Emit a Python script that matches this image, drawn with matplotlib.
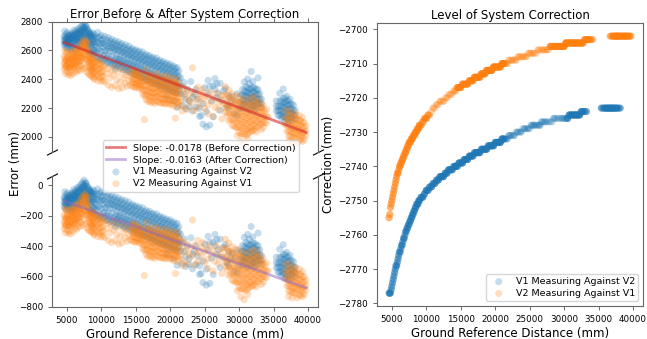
import numpy as np
import matplotlib
matplotlib.use("Agg")
import matplotlib.pyplot as plt

# ---------------- data ----------------
# V1 measuring against V2: ground distance column (mm) -> errors before correction (mm)
v1_cols = [4600, 4700, 4800, 4900, 5000, 5100, 5200, 5300, 5400, 5500, 5600, 5700, 5800, 5900,
           6000, 6100, 6200, 6300, 6400, 6500, 6600, 6700, 6800, 6900, 7000, 7100, 7200, 7300,
           7400, 7500, 7600, 7700, 7800, 7900, 8000, 8100, 8200, 8300, 8400, 8500, 8600, 8700,
           8800, 8900,
           9000, 9250, 9500, 9750, 10000, 10250, 10500, 10750, 11000, 11250, 11500, 11750,
           12000, 12250, 12500, 12750, 13000, 13250, 13500, 13750, 14000, 14250, 14500, 14750,
           15000, 15250, 15500, 15750, 16000, 16250, 16500, 16750, 17000, 17250, 17500, 17750,
           18000, 18250, 18500, 18750, 19000, 19250, 19500, 19750, 20000, 20250, 20500, 20750,
           21000, 21250,
           21500, 21750, 22000, 22250, 22500, 22750, 23000, 23250, 23500, 23750, 24000, 24250,
           24500, 24750, 25000, 25250, 25500, 25750, 26000, 26250, 26500, 26750, 27000, 27250,
           27500, 27750, 28000, 28250, 28500, 28750, 29000, 29250, 29500, 29750, 30000, 30250,
           30500, 30750, 31000, 31250, 31500, 31750, 32000, 32250, 32500, 32750, 33000, 33250,
           35400, 35650, 35900, 36150, 36400, 36650, 36900, 37150, 37400, 37650, 37900, 38150]
v1_before = [
    [2700, 2668, 2640], [2735, 2692, 2660], [2680, 2651, 2625], [2715, 2680, 2650],
    [2690, 2657, 2615], [2725, 2688, 2660], [2672, 2702, 2630], [2705, 2672, 2645],
    [2688, 2645, 2610], [2712, 2683, 2655], [2678, 2700, 2625], [2700, 2652, 2598],
    [2722, 2681, 2648], [2685, 2712, 2620], [2740, 2702, 2668], [2705, 2668, 2632],
    [2690, 2722, 2605], [2730, 2695, 2660], [2712, 2677, 2640], [2748, 2712, 2675],
    [2720, 2665, 2618], [2695, 2735, 2650], [2755, 2718, 2680], [2730, 2680, 2628],
    [2712, 2745, 2662], [2768, 2728, 2690], [2742, 2690, 2640], [2778, 2738, 2700],
    [2725, 2760, 2668], [2792, 2750, 2715], [2760, 2705, 2650], [2738, 2772, 2690],
    [2770, 2700, 2632], [2722, 2750, 2675], [2748, 2680, 2612], [2705, 2735, 2660],
    [2730, 2665, 2598], [2695, 2718, 2640], [2718, 2652, 2585], [2688, 2710, 2625],
    [2705, 2640, 2572], [2675, 2698, 2612], [2722, 2650, 2580], [2662, 2690, 2598],
    [2710, 2675, 2640, 2600, 2565], [2690, 2655, 2622, 2585, 2548],
    [2725, 2688, 2655, 2610, 2552], [2695, 2648, 2610, 2570, 2535],
    [2705, 2672, 2648, 2595, 2540], [2680, 2652, 2625, 2562, 2528],
    [2698, 2645, 2600, 2568, 2535], [2672, 2632, 2598, 2548, 2515],
    [2690, 2652, 2615, 2562, 2520], [2665, 2628, 2595, 2540, 2505],
    [2678, 2645, 2620, 2560, 2512], [2655, 2618, 2588, 2530, 2498],
    [2668, 2632, 2602, 2540, 2505, 2470], [2645, 2610, 2575, 2548, 2520, 2488],
    [2660, 2625, 2598, 2535, 2495], [2638, 2600, 2565, 2538, 2510, 2478],
    [2648, 2615, 2585, 2522, 2482], [2625, 2590, 2558, 2530, 2500, 2465],
    [2640, 2602, 2572, 2515, 2470], [2615, 2580, 2545, 2515, 2488, 2455],
    [2630, 2595, 2562, 2505, 2462], [2605, 2570, 2538, 2508, 2478, 2445],
    [2615, 2582, 2550, 2495, 2452], [2598, 2560, 2525, 2498, 2468, 2435],
    [2605, 2572, 2540, 2485, 2440], [2588, 2550, 2515, 2488, 2458, 2425],
    [2596, 2560, 2528, 2470, 2425], [2575, 2540, 2505, 2478, 2445, 2412],
    [2590, 2552, 2518, 2460, 2412], [2565, 2530, 2495, 2465, 2432, 2400],
    [2572, 2540, 2508, 2450, 2402], [2556, 2518, 2482, 2452, 2420, 2390],
    [2565, 2530, 2498, 2440, 2392], [2545, 2508, 2472, 2442, 2410, 2378],
    [2552, 2520, 2488, 2430, 2382], [2535, 2498, 2462, 2432, 2398, 2368],
    [2548, 2512, 2478, 2418, 2370], [2525, 2488, 2452, 2420, 2388, 2355],
    [2532, 2498, 2466, 2408, 2360], [2515, 2478, 2442, 2410, 2378, 2345],
    [2522, 2488, 2455, 2398, 2350], [2505, 2468, 2432, 2400, 2366, 2335],
    [2512, 2478, 2445, 2388, 2340, 2280], [2495, 2458, 2420, 2390, 2356, 2325],
    [2505, 2470, 2435, 2378, 2328], [2485, 2448, 2410, 2378, 2345, 2315],
    [2492, 2458, 2425, 2368, 2318, 2250], [2475, 2438, 2400, 2368, 2335, 2305],
    [2482, 2448, 2415, 2358, 2306, 2205], [2458, 2422, 2390, 2355, 2325],
    [2410, 2300], [2352, 2218], [2295, 2378], [2196, 2260], [2332], [2248, 2210],
    [2384], [2275, 2180], [2296], [2210, 2330], [2262], [2198, 2142],
    [2148], [2088, 2230], [2342], [2176, 2070], [2392, 2304], [2082, 2350],
    [2248], [2355, 2140], [2405, 2330], [2270, 2370], [2302], [2372, 2185],
    [2252], [2320], [2335], [2215], [2200, 2285], [2245],
    [2281], [2160], [2250], [2150, 2300], [2198], [2290, 2240],
    [2330, 2290, 2256, 2225, 2198], [2382, 2320, 2288, 2252, 2224],
    [2350, 2312, 2282, 2245, 2210], [2402, 2340, 2310, 2280, 2250, 2186],
    [2370, 2330, 2301, 2268, 2236, 2205], [2454, 2335, 2300, 2268, 2232, 2195],
    [2385, 2345, 2312, 2278, 2247, 2215], [2342, 2310, 2280, 2245, 2214, 2188],
    [2330, 2298, 2265, 2230, 2196], [2410, 2328, 2295, 2262, 2232],
    [2300, 2265, 2228], [2262, 2232, 2204],
    [2250, 2215, 2180], [2210, 2182, 2150], [2302, 2250, 2214, 2180, 2148],
    [2248, 2215, 2186, 2155, 2130], [2332, 2265, 2236, 2205, 2172, 2140],
    [2270, 2238, 2205, 2172, 2140, 2110], [2282, 2250, 2222, 2190, 2158, 2125],
    [2251, 2220, 2190, 2155, 2122, 2098], [2262, 2228, 2196, 2165, 2132],
    [2228, 2195, 2165, 2135, 2110], [2220, 2185, 2152], [2184, 2150, 2121],
]

# V2 measuring against V1
v2_cols = [4600, 4700, 4800, 4900, 5000, 5100, 5200, 5300, 5400, 5500, 5600, 5700, 5800, 5900,
           6000, 6100, 6200, 6300, 6400, 6500, 6600, 6700, 6800, 6900, 7000, 7100, 7200, 7300,
           7400, 7500, 7600, 7700, 7800, 7900, 8000, 8100, 8200, 8300, 8400, 8500, 8600, 8700,
           8800, 8900,
           9000, 9250, 9500, 9750, 10000, 10250, 10500, 10750, 11000, 11250, 11500, 11750,
           12000, 12250, 12500, 12750, 13000, 13250, 13500, 13750, 14000, 14250, 14500, 14750,
           15000, 15250, 15500, 15750, 16000, 16250, 16500, 16750, 17000, 17250, 17500, 17750,
           18000, 18250, 18500, 18750, 19000, 19250, 19500, 19750, 20000, 20250, 20500, 20750,
           21000, 21250,
           21500, 21750, 22000, 22250, 22500, 22750, 23000, 23250, 23500, 23750, 24000, 24250,
           24500, 24750, 25000, 25250, 25500, 25750, 26000, 26250, 26500, 26750, 27000, 27250,
           27500, 27750,
           28000, 28250, 28500, 28750, 29000, 29250, 29500, 29750, 30000, 30250, 30500, 30750,
           31000, 31250, 31500, 31750, 32000, 32250, 32500, 32750, 33000, 33250, 33500, 33750,
           34000, 34200,
           36700, 36950, 37200, 37450, 37700, 37950, 38200, 38450, 38700, 38950, 39200, 39450,
           39700]
v2_before = [
    [2560, 2515, 2470], [2600, 2545, 2500], [2530, 2485, 2440], [2585, 2530, 2488],
    [2545, 2500, 2455], [2592, 2555, 2512], [2538, 2482, 2432], [2570, 2522, 2480],
    [2520, 2478, 2445], [2585, 2540, 2498], [2552, 2490, 2425], [2528, 2570, 2470],
    [2590, 2545, 2505], [2540, 2492, 2440], [2575, 2528, 2483], [2598, 2555, 2512],
    [2552, 2505, 2458], [2605, 2548, 2490], [2568, 2510, 2448], [2612, 2565, 2522],
    [2578, 2525, 2468], [2545, 2590, 2492], [2625, 2568, 2510], [2590, 2528, 2462],
    [2640, 2585, 2530], [2610, 2550, 2490], [2655, 2600, 2550], [2625, 2545, 2470],
    [2668, 2620, 2578], [2640, 2570, 2505], [2675, 2615, 2560], [2648, 2565, 2480],
    [2662, 2625, 2590], [2620, 2535, 2452], [2655, 2598, 2540], [2600, 2520, 2440],
    [2565, 2525, 2488], [2545, 2488, 2430], [2560, 2515, 2470], [2530, 2478, 2425],
    [2552, 2505, 2462], [2520, 2470, 2418], [2545, 2495, 2448], [2512, 2460, 2410],
    [2545, 2510, 2480, 2440, 2400], [2520, 2488, 2455, 2420],
    [2530, 2500, 2470, 2430, 2390], [2505, 2475, 2445, 2410],
    [2522, 2485, 2452, 2418, 2385], [2490, 2452, 2420, 2395],
    [2490, 2382], [2440], [2475, 2360], [2410], [2460, 2345], [2430],
    [2485, 2356], [2398], [2445, 2335], [2380], [2468, 2340], [2412],
    [2430, 2372], [2350], [2452, 2390], [2420, 2360],
    [2466, 2432, 2402, 2378, 2352], [2455, 2430, 2400, 2378, 2345],
    [2460, 2428, 2398, 2368, 2342], [2445, 2425, 2395, 2370, 2348],
    [2440, 2412, 2385, 2360, 2335], [2430, 2410, 2385, 2362, 2340],
    [2420, 2388, 2355, 2325, 2298], [2390, 2355, 2320, 2285, 2120],
    [2470, 2430, 2392, 2358, 2322, 2290, 2260], [2425, 2390, 2358, 2322, 2288, 2245],
    [2432, 2402, 2372, 2340, 2310, 2280, 2250], [2402, 2372, 2342, 2310, 2278, 2238],
    [2428, 2398, 2368, 2335, 2305, 2275, 2245], [2398, 2368, 2338, 2305, 2272, 2232],
    [2440, 2408, 2375, 2342, 2312, 2280, 2250], [2405, 2375, 2345, 2312, 2280, 2242],
    [2422, 2392, 2362, 2330, 2298, 2268, 2238], [2392, 2362, 2330, 2298, 2266, 2232],
    [2418, 2388, 2356, 2325, 2292, 2262, 2236], [2388, 2356, 2325, 2292, 2262, 2230],
    [2425, 2392, 2360, 2328, 2295, 2260, 2228], [2392, 2360, 2328, 2292, 2258, 2240],
    [2410, 2380, 2350, 2318, 2286, 2255, 2225], [2380, 2350, 2318, 2285, 2255, 2230],
    [2405, 2372, 2342, 2310, 2280, 2248, 2215], [2374, 2342, 2310, 2280, 2248, 2130],
    [2398, 2368, 2336, 2305, 2272, 2240, 2208], [2368, 2335, 2302, 2270, 2240, 2220],
    [2350, 2248], [2302, 2180], [2338, 2210], [2276], [2320, 2190], [2255],
    [2298, 2236], [2480], [2312, 2182], [2260], [2345, 2205], [2275],
    [2302, 2240], [2330], [2268, 2198], [2285], [2222, 2160], [2310],
    [2250], [2272, 2140], [2205], [2305], [2238, 2190], [2262],
    [2125, 2290], [2230],
    [2350, 2290, 2230, 2200, 2170], [2290, 2245, 2200, 2150],
    [2325, 2270, 2215, 2165, 2110], [2270, 2215, 2160, 2120],
    [2300, 2255, 2210, 2165, 2120, 2080], [2255, 2210, 2165, 2120, 2075],
    [2285, 2240, 2196, 2152, 2108, 2065], [2240, 2196, 2152, 2108, 2065, 2010],
    [2280, 2238, 2195, 2150, 2108, 2066, 2030], [2238, 2195, 2150, 2108, 2066, 2020, 1970],
    [2262, 2222, 2182, 2142, 2100, 2060, 2020], [2222, 2182, 2142, 2100, 2060, 2020, 1950],
    [2250, 2212, 2172, 2132, 2092, 2052, 2010], [2212, 2172, 2132, 2092, 2052, 2020, 1985],
    [2268, 2225, 2185, 2145, 2105, 2065, 2030], [2225, 2185, 2145, 2105, 2065, 2040],
    [2278, 2236, 2196, 2156, 2116, 2078, 2040], [2236, 2196, 2156, 2116, 2078, 2050],
    [2272, 2232, 2192, 2150, 2110, 2070, 2035], [2232, 2192, 2150, 2110, 2070],
    [2245, 2205, 2165, 2125, 2088], [2205, 2165, 2125, 2088, 2050],
    [2220, 2180, 2140, 2100, 2065], [2180, 2140, 2100],
    [2190, 2140, 2095], [2140],
    [2180, 2130, 2085], [2130, 2085, 2040],
    [2188, 2150, 2112, 2075, 2040, 2005, 1970], [2150, 2112, 2075, 2040, 2005],
    [2170, 2135, 2098, 2062, 2028, 1995, 1960], [2135, 2098, 2062, 2028, 1995],
    [2160, 2125, 2090, 2055, 2020, 1985], [2125, 2090, 2055, 2020, 1960],
    [2150, 2115, 2080, 2045, 2012, 1978], [2115, 2080, 2045, 2012, 1978],
    [2135, 2100, 2065, 2030, 2000, 1968], [2100, 2065, 2030, 1982],
    [2075, 2040, 2010],
]

# System correction (integer mm steps): distance where each level starts, and the level
v1_step_start = [4600, 4850, 4950, 5050, 5150, 5250, 5350, 5450, 5580, 5710, 5840, 5970,
                 6100, 6240, 6380, 6520, 6670, 6820, 6990, 7160, 7340, 7520, 7710, 7910,
                 8120, 8340, 8570, 8810, 9150, 9550, 9980, 10430, 10900, 11400, 11950,
                 12550, 13200, 13900, 14600, 15350, 16150, 17000, 17900, 18850, 19850,
                 20900, 22000, 23000, 24000, 25200, 26600, 28300, 30700, 32400, 35000]
v1_step_level = [-2777, -2776, -2775, -2774, -2773, -2772, -2771, -2770, -2769, -2768,
                 -2767, -2766, -2765, -2764, -2763, -2762, -2761, -2760, -2759, -2758,
                 -2757, -2756, -2755, -2754, -2753, -2752, -2751, -2750, -2749, -2748,
                 -2747, -2746, -2745, -2744, -2743, -2742, -2741, -2740, -2739, -2738,
                 -2737, -2736, -2735, -2734, -2733, -2732, -2731, -2730, -2729, -2728,
                 -2727, -2726, -2725, -2724, -2723]
v2_step_start = [4600, 4680, 4730, 4800, 4870, 4940, 5030, 5120, 5220, 5320, 5420, 5530,
                 5650, 5780, 5920, 6080, 6250, 6430, 6620, 6820, 7030, 7250, 7490, 7750,
                 8030, 8330, 8650, 8990, 9350, 9730, 10130, 10550, 11000, 11480, 12000,
                 12550, 13150, 13800, 14500, 15250, 16050, 16900, 17800, 18750, 19750,
                 20800, 21900, 23100, 24600, 26200, 28000, 30200, 33000, 36000]
v2_step_level = [-2755, -2754, -2753, -2752, -2751, -2750, -2749, -2748, -2747, -2746,
                 -2745, -2744, -2743, -2742, -2741, -2740, -2739, -2738, -2737, -2736,
                 -2735, -2734, -2733, -2732, -2731, -2730, -2729, -2728, -2727, -2726,
                 -2725, -2724, -2723, -2722, -2721, -2720, -2719, -2718, -2717, -2716,
                 -2715, -2714, -2713, -2712, -2711, -2710, -2709, -2708, -2707, -2706,
                 -2705, -2704, -2703, -2702]

# trend lines (slope, intercept) as given in the legend
slope_before, icpt_before = -0.0178, 2738.0
slope_after, icpt_after = -0.0163, -28.0

series_labels = ["V1 Measuring Against V2", "V2 Measuring Against V1"]


def expand(cols, vals, starts, levels):
    xs, ys, cs = [], [], []
    for x, col in zip(cols, vals):
        i = np.searchsorted(starts, x, side="right") - 1
        for y in col:
            xs.append(x)
            ys.append(y)
            cs.append(levels[i])
    return np.array(xs, float), np.array(ys, float), np.array(cs, float)


x1, b1, c1 = expand(v1_cols, v1_before, v1_step_start, v1_step_level)
x2, b2, c2 = expand(v2_cols, v2_before, v2_step_start, v2_step_level)
a1 = b1 + c1
a2 = b2 + c2

xmin = min(x1.min(), x2.min())
xmax = max(x1.max(), x2.max())
xl = np.array([xmin, xmax])

# ---------------- figure ----------------
W, H = 647, 339
fig = plt.figure(figsize=(W / 100, H / 100), dpi=100)


def frac(l, t, r, b):
    return [l / W, 1 - b / H, (r - l) / W, (b - t) / H]


ax_top = fig.add_axes(frac(52, 21.7, 318, 152))
ax_bot = fig.add_axes(frac(52, 176, 318, 306.7))
ax_r = fig.add_axes(frac(377, 23.3, 643, 306))

TICK = 6.3
LEG = 6.8
LAB = 8.5
SC_S = 26
SC_A = 0.25
blue, orange = "tab:blue", "tab:orange"
SPC = "0.4"

for ax in (ax_top, ax_bot, ax_r):
    ax.tick_params(labelsize=TICK, length=3, width=0.7, color=SPC)
    for sp in ax.spines.values():
        sp.set_linewidth(0.8)
        sp.set_color(SPC)

# left: broken axis
sc1 = ax_top.scatter(x1, b1, s=SC_S, alpha=SC_A, color=blue, edgecolors="none")
sc2 = ax_top.scatter(x2, b2, s=SC_S, alpha=SC_A, color=orange, edgecolors="none")
ln1, = ax_top.plot(xl, icpt_before + slope_before * xl, color="tab:red", alpha=0.6, lw=2)
ax_bot.scatter(x1, a1, s=SC_S, alpha=SC_A, color=blue, edgecolors="none")
ax_bot.scatter(x2, a2, s=SC_S, alpha=SC_A, color=orange, edgecolors="none")
ln2, = ax_bot.plot(xl, icpt_after + slope_after * xl, color="tab:purple", alpha=0.5, lw=2)

ax_top.set_ylim(1895, 2800)
ax_bot.set_ylim(-800, 62)
ax_top.set_yticks([2000, 2200, 2400, 2600, 2800])
ax_bot.set_yticks([-800, -600, -400, -200, 0])
xticks = [5000, 10000, 15000, 20000, 25000, 30000, 35000, 40000]
for ax in (ax_top, ax_bot, ax_r):
    ax.set_xticks(xticks)
ax_top.set_xlim(ax_bot.get_xlim())

ax_top.spines["bottom"].set_visible(False)
ax_bot.spines["top"].set_visible(False)
ax_top.xaxis.tick_top()
ax_top.tick_params(labeltop=False)
ax_bot.xaxis.tick_bottom()

d = 0.5
kw = dict(marker=[(-1, -d), (1, d)], markersize=8, linestyle="none",
          color="k", mec="k", mew=0.8, clip_on=False)
ax_top.plot([0, 1], [0, 0], transform=ax_top.transAxes, **kw)
ax_bot.plot([0, 1], [1, 1], transform=ax_bot.transAxes, **kw)

ax_top.set_title("Error Before & After System Correction", fontsize=LAB, pad=3)
ax_bot.set_xlabel("Ground Reference Distance (mm)", fontsize=LAB, labelpad=2)
fig.text(15 / W, 1 - 164 / H, "Error (mm)", rotation=90, va="center", ha="center",
         fontsize=LAB)

fig.legend([ln1, ln2, sc1, sc2],
           ["Slope: %.4f (Before Correction)" % slope_before,
            "Slope: %.4f (After Correction)" % slope_after] + series_labels,
           loc="center", bbox_to_anchor=(201 / W, 1 - 166 / H), fontsize=LEG,
           borderpad=0.35, labelspacing=0.3, handlelength=2.0)

# right: correction levels
ax_r.scatter(x1, c1, s=SC_S, alpha=SC_A, color=blue, edgecolors="none",
             label=series_labels[0])
ax_r.scatter(x2, c2, s=SC_S, alpha=SC_A, color=orange, edgecolors="none",
             label=series_labels[1])
ax_r.set_yticks([-2780, -2770, -2760, -2750, -2740, -2730, -2720, -2710, -2700])
ax_r.set_title("Level of System Correction", fontsize=LAB, pad=3)
ax_r.set_xlabel("Ground Reference Distance (mm)", fontsize=LAB, labelpad=2)
ax_r.set_ylabel("Correction (mm)", fontsize=LAB, labelpad=2)
ax_r.legend(loc="lower right", fontsize=LEG, borderpad=0.35, labelspacing=0.3)

fig.savefig("out.png", dpi=100)
